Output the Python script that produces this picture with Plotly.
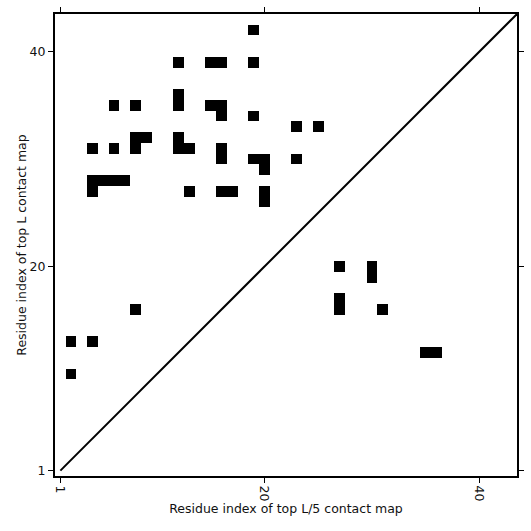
import plotly.graph_objects as go

L = 43
# contacts: (x = top L/5 residue index, y = top L residue index)
contact_x = [19, 12, 15, 16, 19, 6, 8, 12, 12, 15, 16, 16, 19, 23, 25, 8, 9, 12,
             4, 6, 8, 12, 13, 16, 16, 19, 20, 20, 23, 4, 5, 6, 7, 4, 13, 16, 17, 20, 20,
             27, 30, 30, 27, 27, 31, 8, 2, 4, 2, 35, 36]
contact_y = [42, 39, 39, 39, 39, 35, 35, 35, 36, 35, 35, 34, 34, 33, 33, 32, 32, 32,
             31, 31, 31, 31, 31, 31, 30, 30, 30, 29, 30, 28, 28, 28, 28, 27, 27, 27, 27, 27, 26,
             20, 20, 19, 17, 16, 16, 16, 13, 13, 10, 12, 12]
diag_x = [1, 43.5]
diag_y = [1, 43.5]
tick_vals = [1, 20, 40]
tick_text = ["1", "20", "40"]

idx = list(range(1, L + 1))
z = [[0] * L for _ in range(L)]
for cx, cy in zip(contact_x, contact_y):
    z[cy - 1][cx - 1] = 1

fig = go.Figure()
fig.add_trace(go.Heatmap(x=idx, y=idx, z=z, zmin=0, zmax=1,
                         colorscale=[[0, "white"], [1, "black"]],
                         showscale=False, hoverinfo="skip"))
fig.add_trace(go.Scatter(x=diag_x, y=diag_y, mode="lines",
                         line=dict(color="black", width=2), showlegend=False))

font = dict(family="DejaVu Sans", size=12.5, color="#111111")
axis_common = dict(range=[0.5, 43.5], tickvals=tick_vals, ticktext=tick_text,
                   showgrid=False, zeroline=False, showline=True, linecolor="black",
                   linewidth=2, mirror="allticks", ticks="outside", ticklen=5,
                   tickwidth=1, tickcolor="black", tickfont=font, automargin=False)

fig.update_layout(
    width=531, height=531,
    margin=dict(l=55, r=14, t=14, b=55),
    paper_bgcolor="white", plot_bgcolor="white",
    font=font,
    xaxis=dict(**axis_common, tickangle=90,
               title=dict(text="Residue index of top L/5 contact map", font=font, standoff=4)),
    yaxis=dict(**axis_common,
               title=dict(text="Residue index of top L contact map", font=font, standoff=0)),
    showlegend=False,
)

fig.write_html("out.html", config={"displayModeBar": False},
               post_script="document.body.style.margin='0';document.body.style.overflow='hidden';")
